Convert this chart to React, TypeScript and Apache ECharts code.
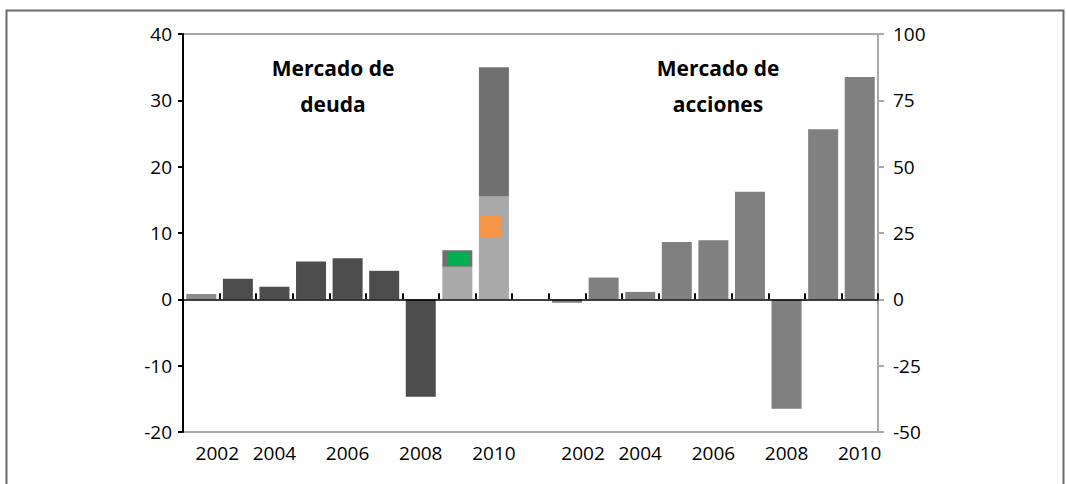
import { useEffect, useRef } from 'react';
import * as echarts from 'echarts';

// Years shown for each market panel
const debtYears = ['2002', '2003', '2004', '2005', '2006', '2007', '2008', '2009', '2010'];
const equityYears = ['2002', '2003', '2004', '2005', '2006', '2007', '2008', '2009', '2010'];

// Debt market (left axis): single bars 2002-2008
const debtNet = [0.8, 3.1, 1.9, 5.7, 6.2, 4.3, -14.7, null, null];
// Debt market 2009-2010 split into a lower and an upper part
const debtLower = [null, null, null, null, null, null, null, 4.9, 15.5];
const debtUpper = [null, null, null, null, null, null, null, 2.5, 19.5];
// Highlighted blocks inside the split bars: [year, from, to]
const greenBlock = ['2009', 5.1, 7.1];
const orangeBlock = ['2010', 9.4, 12.7];

// Equity market (right axis)
const equityNet = [-1.3, 8.2, 2.8, 21.6, 22.3, 40.5, -41.2, 64.1, 83.8];

// Axis ranges
const leftAxis = { min: -20, max: 40, interval: 10 };
const rightAxis = { min: -50, max: 100, interval: 25 };

// Panel headings
const debtTitle = 'Mercado de\ndeuda';
const equityTitle = 'Mercado de\nacciones';

const FONT = '"Open Sans", "Liberation Sans", sans-serif';

export default function App() {
  const ref = useRef<HTMLDivElement>(null);

  useEffect(() => {
    if (!ref.current) return;
    const chart = echarts.init(ref.current, undefined, { renderer: 'svg' });

    const labels = [...debtYears, '', ...equityYears];
    const keys = labels.map((l, i) => `${i}:${l}`);
    const gapPad = [null];
    const equityPad = equityYears.map(() => null);
    const debtPad = debtYears.map(() => null);

    const debtMain = [...debtNet, ...gapPad, ...equityPad];
    const lower = [...debtLower, ...gapPad, ...equityPad];
    const upper = [...debtUpper, ...gapPad, ...equityPad];
    const equity = [...debtPad, ...gapPad, ...equityNet];

    const blockData = [greenBlock, orangeBlock].map((b) => [
      debtYears.indexOf(b[0] as string),
      b[1] as number,
      b[2] as number,
    ]);
    const blockColors = ['#00b050', '#f79646'];
    const blockShift = [1, -3.5];
    const blockWidth = 21;

    const labelStyle = { fontFamily: FONT, fontSize: 19, color: '#000' };

    chart.setOption({
      animation: false,
      grid: {
        left: 183,
        right: 188,
        top: 34,
        bottom: 52,
        show: true,
        borderColor: '#a9a9a9',
        borderWidth: 2,
        backgroundColor: 'transparent',
      },
      xAxis: [
        {
          type: 'category',
          data: keys,
          position: 'bottom',
          axisLine: { show: false, onZero: false },
          axisTick: { show: false },
          axisLabel: {
            ...labelStyle,
            margin: 11,
            interval: (index: number) => index % 2 === 0,
            formatter: (_v: string, i: number) =>
              i === 0 || i === debtYears.length + 1 ? `{s|${labels[i]}}` : labels[i],
            rich: { s: { ...labelStyle, padding: [0, 0, 0, 32] } },
          },
          splitLine: { show: false },
        },
        {
          type: 'category',
          data: keys,
          position: 'bottom',
          z: 3,
          axisLine: { show: true, onZero: true, onZeroAxisIndex: 0, lineStyle: { color: '#000', width: 1.5 } },
          axisTick: { show: true, inside: true, length: 6, interval: 0, lineStyle: { color: '#000', width: 2 } },
          axisLabel: { show: false },
          splitLine: { show: false },
        },
      ],
      yAxis: [
        {
          type: 'value',
          position: 'left',
          ...leftAxis,
          axisLine: { show: true, onZero: false, lineStyle: { color: '#000', width: 2 } },
          axisTick: { show: true, length: 5, lineStyle: { color: '#000', width: 2 } },
          axisLabel: { ...labelStyle, margin: 11 },
          splitLine: { show: false },
        },
        {
          type: 'value',
          position: 'right',
          ...rightAxis,
          axisLine: { show: true, onZero: false, lineStyle: { color: '#a9a9a9', width: 2 } },
          axisTick: { show: true, length: 6, lineStyle: { color: '#a9a9a9', width: 2 } },
          axisLabel: { ...labelStyle, margin: 15 },
          splitLine: { show: false },
        },
      ],
      series: [
        {
          type: 'bar',
          name: 'deuda',
          data: debtMain,
          barWidth: 30,
          barGap: '-100%',
          itemStyle: {
            color: (p: any) => (p.dataIndex === 0 ? '#8a8a8a' : '#4d4d4d'),
          },
        },
        {
          type: 'bar',
          name: 'deuda (parte inferior)',
          stack: 'split',
          data: lower,
          barWidth: 30,
          barGap: '-100%',
          itemStyle: { color: '#a9a9a9' },
        },
        {
          type: 'bar',
          name: 'deuda (parte superior)',
          stack: 'split',
          data: upper,
          barWidth: 30,
          barGap: '-100%',
          itemStyle: { color: '#707070' },
        },
        {
          type: 'bar',
          name: 'acciones',
          yAxisIndex: 1,
          data: equity,
          barWidth: 30,
          barGap: '-100%',
          itemStyle: { color: '#808080' },
        },
        {
          type: 'custom',
          name: 'bloques',
          xAxisIndex: 0,
          yAxisIndex: 0,
          data: blockData,
          encode: { x: 0, y: [1, 2] },
          renderItem: (params: any, api: any) => {
            const cat = api.value(0);
            const pLo = api.coord([cat, api.value(1)]);
            const pHi = api.coord([cat, api.value(2)]);
            const cx = pLo[0] + blockShift[params.dataIndex];
            return {
              type: 'rect',
              shape: { x: cx - blockWidth / 2, y: pHi[1], width: blockWidth, height: pLo[1] - pHi[1] },
              style: { fill: blockColors[params.dataIndex] },
            };
          },
          z: 5,
        },
      ],
      graphic: [
        {
          type: 'rect',
          silent: true,
          shape: { x: 6.5, y: 10.5, width: 1057, height: 500 },
          style: { fill: 'none', stroke: '#6b6b6b', lineWidth: 2 },
        },
        {
          type: 'text',
          x: 333,
          y: 50,
          style: {
            text: debtTitle,
            fontFamily: FONT,
            fontSize: 21,
            fontWeight: 'bold',
            lineHeight: 36,
            align: 'center',
            verticalAlign: 'top',
            fill: '#000',
          },
        },
        {
          type: 'text',
          x: 718,
          y: 50,
          style: {
            text: equityTitle,
            fontFamily: FONT,
            fontSize: 21,
            fontWeight: 'bold',
            lineHeight: 36,
            align: 'center',
            verticalAlign: 'top',
            fill: '#000',
          },
        },
      ],
    });

    return () => chart.dispose();
  }, []);

  return (
    <div
      ref={ref}
      style={{ position: 'absolute', left: 0, top: 0, width: 1066, height: 484, background: '#fff' }}
    />
  );
}
